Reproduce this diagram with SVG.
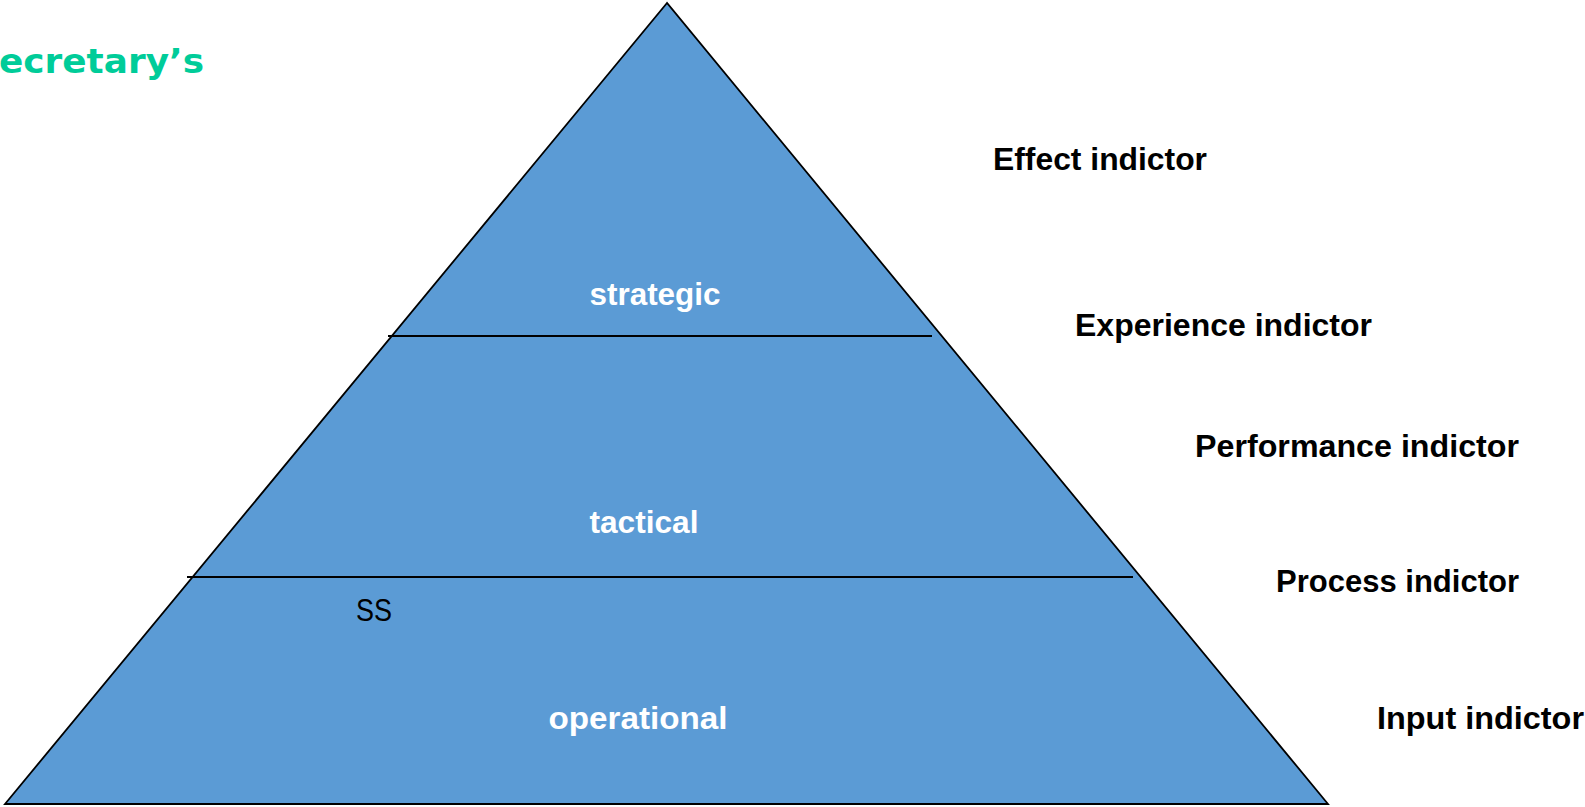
<svg xmlns="http://www.w3.org/2000/svg" width="1585" height="807" viewBox="0 0 1585 807">
<style>
.lbl{font-family:"Liberation Sans",Arial,sans-serif;font-weight:bold;font-size:32px;fill:#000}
.lvl{font-family:"Liberation Sans",Arial,sans-serif;font-weight:bold;font-size:32px;fill:#fff;text-anchor:middle}
.div{stroke:#000;stroke-width:2}
</style>
<rect width="1585" height="807" fill="#fff"/>
<g id="title"><text x="-1" y="73" font-family="DejaVu Sans,Verdana,sans-serif" font-weight="bold" font-size="34" fill="#00CC99" textLength="205" lengthAdjust="spacingAndGlyphs">ecretary’s</text></g>
<g id="pyramid">
<polygon points="667,3 5,804 1328,804" fill="#5B9BD5" stroke="#000" stroke-width="1.8" stroke-linejoin="miter"/>
</g>
<g id="dividers">
<line class="div" x1="388" y1="336" x2="932" y2="336"/>
<line class="div" x1="187" y1="577" x2="1133" y2="577"/>
</g>
<g id="level-strategic"><text class="lvl" x="655" y="305" textLength="131" lengthAdjust="spacingAndGlyphs">strategic</text></g>
<g id="level-tactical"><text class="lvl" x="644" y="533" textLength="109" lengthAdjust="spacingAndGlyphs">tactical</text></g>
<g id="level-operational"><text class="lvl" x="638" y="729" textLength="179" lengthAdjust="spacingAndGlyphs">operational</text></g>
<g id="ss"><text x="356" y="621" font-family="Liberation Sans,Arial,sans-serif" font-size="31" fill="#000" textLength="36" lengthAdjust="spacingAndGlyphs">SS</text></g>
<g id="ind-effect"><text class="lbl" x="993" y="170" textLength="214" lengthAdjust="spacingAndGlyphs">Effect indictor</text></g>
<g id="ind-experience"><text class="lbl" x="1075" y="336" textLength="297" lengthAdjust="spacingAndGlyphs">Experience indictor</text></g>
<g id="ind-performance"><text class="lbl" x="1195" y="457" textLength="324" lengthAdjust="spacingAndGlyphs">Performance indictor</text></g>
<g id="ind-process"><text class="lbl" x="1276" y="592" textLength="243" lengthAdjust="spacingAndGlyphs">Process indictor</text></g>
<g id="ind-input"><text class="lbl" x="1377" y="729" textLength="207" lengthAdjust="spacingAndGlyphs">Input indictor</text></g>
</svg>
